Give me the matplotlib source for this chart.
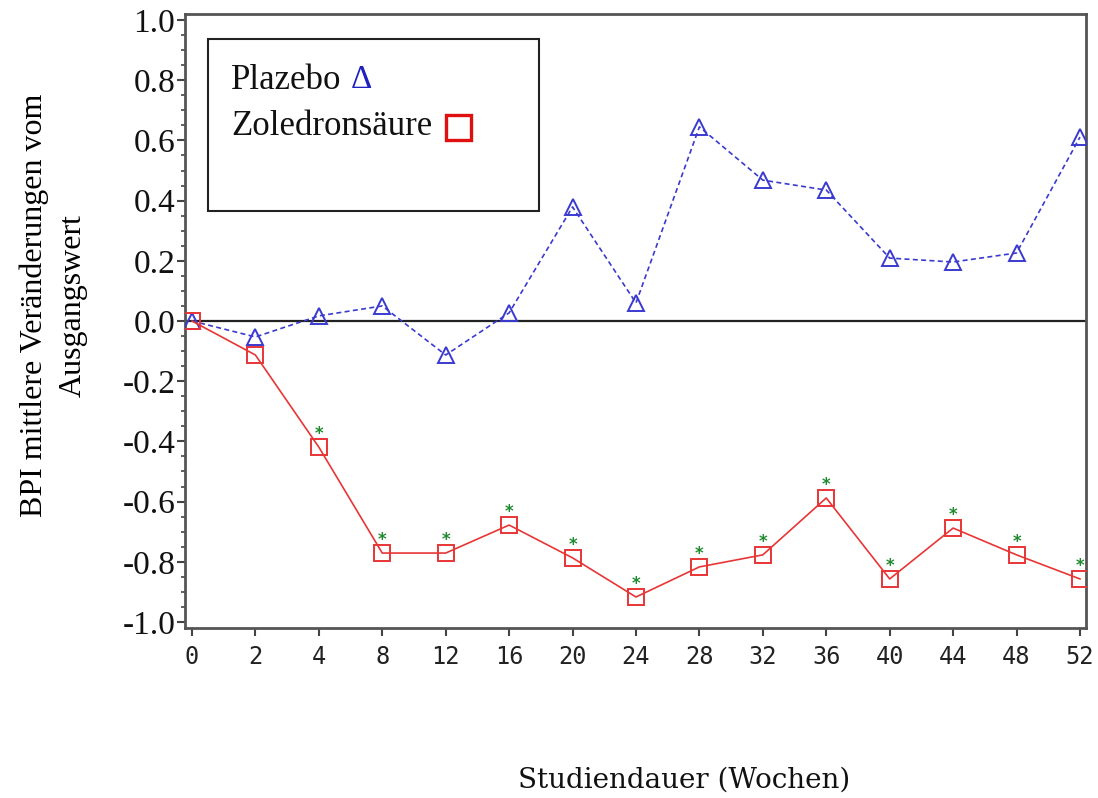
import matplotlib
matplotlib.use("Agg")
import matplotlib.pyplot as plt
from matplotlib.patches import Rectangle
from matplotlib.ticker import MultipleLocator

weeks = ["0", "2", "4", "8", "12", "16", "20", "24", "28", "32", "36", "40", "44", "48", "52"]
placebo = [0.0, -0.053, 0.017, 0.05, -0.113, 0.027, 0.379, 0.06, 0.645, 0.468, 0.435, 0.209, 0.196, 0.226, 0.611]
zoledron = [0.0, -0.113, -0.419, -0.771, -0.771, -0.678, -0.787, -0.917, -0.817, -0.777, -0.588, -0.857, -0.688, -0.777, -0.857]
significant = [False, False, True, True, True, True, True, True, True, True, True, True, True, True, True]
yticks = [-1.0, -0.8, -0.6, -0.4, -0.2, 0.0, 0.2, 0.4, 0.6, 0.8, 1.0]

blue = "#3a3ad0"
red = "#e83535"
green = "#1e8a2e"
serif = "Liberation Serif"

fig = plt.figure(figsize=(10.98, 7.98), dpi=100)
ax = fig.add_axes([185 / 1098, 1 - 628 / 798, 901 / 1098, 614 / 798])

x = list(range(len(weeks)))

ax.axhline(0, color="#222222", lw=1.6, zorder=1)
ax.plot(x, placebo, color=blue, ls=(0, (3, 2)), lw=1.2, marker="^", ms=12,
        mfc="none", mec=blue, mew=1.4, zorder=3)
ax.plot(x, zoledron, color=red, lw=1.2, marker="s", ms=12,
        mfc="none", mec=red, mew=1.4, zorder=3)

for xi, yi, sig in zip(x, zoledron, significant):
    if sig:
        ax.annotate("*", xy=(xi, yi), xytext=(0, 3), textcoords="offset points",
                    ha="center", va="bottom", color=green, fontsize=12,
                    fontweight="bold", family="DejaVu Sans")

ax.set_xlim(-0.11, 14.095)
ax.set_ylim(-1.02, 1.02)
ax.set_xticks(x)
ax.set_xticklabels(weeks, family="DejaVu Sans Mono", fontsize=17, color="#222222")
ax.yaxis.set_minor_locator(MultipleLocator(0.05))
ax.set_yticks(yticks)
ax.set_yticklabels([f"{v:.1f}" for v in yticks], family=serif, fontsize=24, color="#111111")
ax.tick_params(axis="y", which="major", length=6, width=1.5, pad=1, color="#444444")
ax.tick_params(axis="y", which="minor", length=3, width=1.2, color="#444444")
ax.tick_params(axis="x", which="major", length=6, width=1.5, pad=6, color="#444444")

for s in ax.spines.values():
    s.set_color("#555555")
    s.set_linewidth(2)

# legend box
ax.add_patch(Rectangle((0.0255, 0.679), 0.3675, 0.28, transform=ax.transAxes,
                       fill=False, ec="#222222", lw=1.5, zorder=4))
ax.text(0.051, 0.8925, "Plazebo", transform=ax.transAxes, family=serif,
        fontsize=25, va="center", ha="left", color="#111111")
ax.text(0.196, 0.8925, "\u0394", transform=ax.transAxes, family=serif,
        fontsize=24, va="center", ha="center", color="#2020c0")
ax.text(0.051, 0.816, "Zoledronsäure", transform=ax.transAxes, family=serif,
        fontsize=25, va="center", ha="left", color="#111111")
ax.plot([0.303], [0.816], transform=ax.transAxes, marker="s", ms=18,
        mfc="none", mec="#e01010", mew=2.4, clip_on=False, zorder=5)

ax.set_ylabel("BPI mittlere Veränderungen vom\nAusgangswert", family=serif,
              fontsize=23, linespacing=1.45)
ax.yaxis.set_label_coords(-0.108, 0.525)

fig.text(684 / 1098, 1 - 780 / 798, "Studiendauer (Wochen)", family="DejaVu Serif",
         fontsize=20, ha="center", va="center", color="#111111")

fig.savefig("out.png", dpi=100, facecolor="white")
